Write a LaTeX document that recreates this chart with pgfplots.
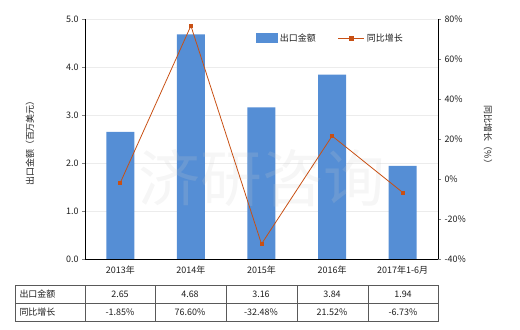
\documentclass[border=0pt]{standalone}
\usepackage{fontspec}
\setmainfont{Noto Sans CJK SC}
\usepackage{pgfplots}
\pgfplotsset{compat=1.18}
\definecolor{barblue}{RGB}{85,142,213}
\definecolor{lineor}{RGB}{200,80,20}
\definecolor{txt}{RGB}{30,30,30}
\begin{document}
\begin{tikzpicture}[font=\fontsize{9}{10.5}\selectfont, text=txt]
\useasboundingbox (0,0) rectangle (520bp,330bp);
\begin{axis}[at={(85bp,71bp)}, anchor=south west, width=353bp, height=240bp, scale only axis,
  xmin=-0.5, xmax=4.5, ymin=0, ymax=5,
  ytick={0,1,2,3,4,5},
  yticklabel style={/pgf/number format/.cd,fixed,fixed zerofill,precision=1},
  /pgf/number format/assume math mode=true,
  axis x line*=bottom, axis y line*=left,
  xtick={0,1,2,3,4}, xticklabels={2013年,2014年,2015年,2016年,2017年1-6月},
  xtick style={draw=none}, tick align=outside, major tick length=3bp,
  ymajorgrids, grid style={gray!15},
  axis line style={black, line width=0.6pt},
  clip=false]
\addplot[ybar, fill=barblue, draw=none, bar width=28bp] coordinates {(0,2.65) (1,4.68) (2,3.16) (3,3.84) (4,1.94)};
\end{axis}
\node[font=\fontsize{62}{62}\selectfont, text=gray!40, opacity=0.18] at (262bp,152bp) {济研咨询};
\begin{axis}[at={(85bp,71bp)}, anchor=south west, width=353bp, height=240bp, scale only axis,
  xmin=-0.5, xmax=4.5, ymin=-40, ymax=80,
  ytick={-40,-20,0,20,40,60,80},
  yticklabel={\pgfmathprintnumber{\tick}\%},
  /pgf/number format/assume math mode=true,
  axis x line=none, axis y line*=right,
  tick align=outside, major tick length=3bp,
  axis line style={black, line width=0.6pt},
  legend style={at={(rel axis cs:0.695,0.92)}, anchor=center, draw=none, fill=none, legend columns=2,
    /tikz/every even column/.append style={column sep=20bp}, font=\fontsize{9}{10.5}\selectfont},
  clip=false]
\addlegendimage{area legend, fill=barblue, draw=none, legend image code/.code={\fill[barblue] (0bp,-5bp) rectangle (22bp,5bp);}}
\addlegendentry{出口金额}
\addplot[lineor, line width=0.8pt, mark=square*, mark size=1.5pt, mark options={fill=lineor},
  legend image code/.code={\draw[lineor, line width=1.2pt] (0bp,0bp) -- (26bp,0bp); \fill[lineor] (11bp,-2bp) rectangle (15bp,2bp);}]
  coordinates {(0,-1.85) (1,76.60) (2,-32.48) (3,21.52) (4,-6.73)};
\addlegendentry{同比增长}
\end{axis}
\node[rotate=90] at (30bp,189bp) {出口金额（百万美元）};
\node[rotate=-90] at (488bp,193bp) {同比增长（\%）};
% data table
\draw[gray!70!black, line width=0.6pt] (15bp,9bp) rectangle (438bp,45bp);
\draw[gray!70!black, line width=0.6pt] (15bp,27bp) -- (438bp,27bp);
\foreach \x in {85,155,226,297,368} {\draw[gray!70!black, line width=0.6pt] (\x bp,9bp) -- (\x bp,45bp);}
\node[anchor=west] at (16bp,36bp) {出口金额};
\node[anchor=west] at (16bp,18bp) {同比增长};
\node at (120bp,36bp) {2.65};
\node at (190bp,36bp) {4.68};
\node at (261bp,36bp) {3.16};
\node at (332bp,36bp) {3.84};
\node at (403bp,36bp) {1.94};
\node at (120bp,18bp) {-1.85\%};
\node at (190bp,18bp) {76.60\%};
\node at (261bp,18bp) {-32.48\%};
\node at (332bp,18bp) {21.52\%};
\node at (403bp,18bp) {-6.73\%};
\end{tikzpicture}
\end{document}
